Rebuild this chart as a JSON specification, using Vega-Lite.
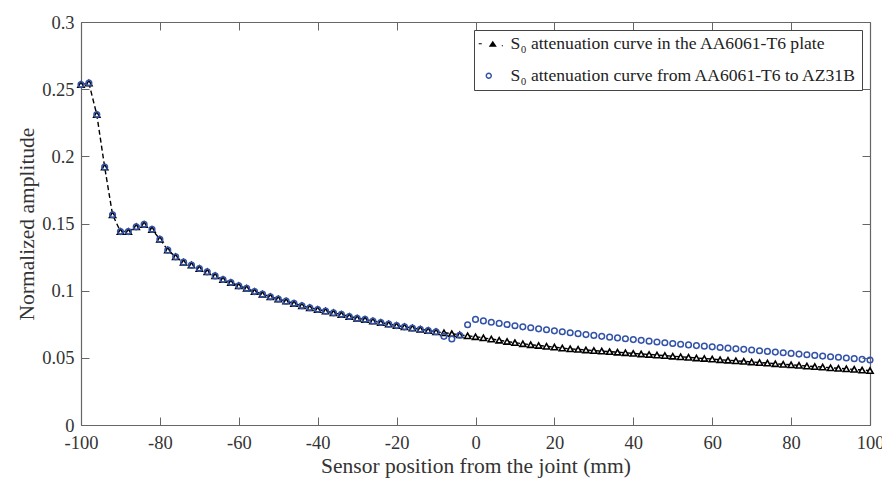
{
  "$schema": "https://vega.github.io/schema/vega-lite/v6.json",
  "width": 789,
  "height": 403,
  "autosize": {"type": "none"},
  "padding": {"left": 81, "top": 22, "right": 12, "bottom": 61},
  "background": "white",
  "config": {
    "view": {"stroke": null},
    "font": "Liberation Serif",
    "axis": {
      "labelFont": "Liberation Serif",
      "titleFont": "Liberation Serif",
      "labelFontSize": 18.5,
      "titleFontSize": 21.5,
      "titleFontWeight": "normal",
      "labelColor": "#333333",
      "titleColor": "#333333",
      "domainColor": "#666666",
      "tickColor": "#666666",
      "domainWidth": 1.2,
      "tickWidth": 1,
      "labelFlush": false,
      "grid": false
    },
    "legend": {
      "orient": "top-right",
      "offset": 8,
      "padding": 5,
      "strokeColor": "#444444",
      "fillColor": "white",
      "symbolSize": 196,
      "symbolStrokeWidth": 0,
      "labelFont": "Liberation Serif",
      "labelFontSize": 17.6,
      "labelColor": "#222222",
      "rowPadding": 13,
      "labelOffset": 14,
      "labelLimit": 500
    }
  },
  "data": {
    "values": [
      {"x": -100, "y": 0.2534, "s": "a"}, {"x": -98, "y": 0.2546, "s": "a"}, {"x": -96, "y": 0.2311, "s": "a"}, {"x": -94, "y": 0.1920, "s": "a"}, {"x": -92, "y": 0.1565, "s": "a"},
      {"x": -90, "y": 0.1440, "s": "a"}, {"x": -88, "y": 0.1440, "s": "a"}, {"x": -86, "y": 0.1475, "s": "a"}, {"x": -84, "y": 0.1493, "s": "a"}, {"x": -82, "y": 0.1456, "s": "a"},
      {"x": -80, "y": 0.1383, "s": "a"}, {"x": -78, "y": 0.1302, "s": "a"}, {"x": -76, "y": 0.1252, "s": "a"}, {"x": -74, "y": 0.1212, "s": "a"}, {"x": -72, "y": 0.1190, "s": "a"},
      {"x": -70, "y": 0.1165, "s": "a"}, {"x": -68, "y": 0.1140, "s": "a"}, {"x": -66, "y": 0.1110, "s": "a"}, {"x": -64, "y": 0.1083, "s": "a"}, {"x": -62, "y": 0.1061, "s": "a"},
      {"x": -60, "y": 0.1036, "s": "a"}, {"x": -58, "y": 0.1017, "s": "a"}, {"x": -56, "y": 0.0993, "s": "a"}, {"x": -54, "y": 0.0974, "s": "a"}, {"x": -52, "y": 0.0955, "s": "a"},
      {"x": -50, "y": 0.0938, "s": "a"}, {"x": -48, "y": 0.0922, "s": "a"}, {"x": -46, "y": 0.0905, "s": "a"}, {"x": -44, "y": 0.0888, "s": "a"}, {"x": -42, "y": 0.0873, "s": "a"},
      {"x": -40, "y": 0.0860, "s": "a"}, {"x": -38, "y": 0.0848, "s": "a"}, {"x": -36, "y": 0.0835, "s": "a"}, {"x": -34, "y": 0.0823, "s": "a"}, {"x": -32, "y": 0.0808, "s": "a"},
      {"x": -30, "y": 0.0795, "s": "a"}, {"x": -28, "y": 0.0786, "s": "a"}, {"x": -26, "y": 0.0774, "s": "a"}, {"x": -24, "y": 0.0763, "s": "a"}, {"x": -22, "y": 0.0751, "s": "a"},
      {"x": -20, "y": 0.0740, "s": "a"}, {"x": -18, "y": 0.0731, "s": "a"}, {"x": -16, "y": 0.0722, "s": "a"}, {"x": -14, "y": 0.0713, "s": "a"}, {"x": -12, "y": 0.0703, "s": "a"},
      {"x": -10, "y": 0.0694, "s": "a"}, {"x": -8, "y": 0.0687, "s": "a"}, {"x": -6, "y": 0.0680, "s": "a"}, {"x": -4, "y": 0.0671, "s": "a"}, {"x": -2, "y": 0.0664, "s": "a"},
      {"x": 0, "y": 0.0657, "s": "a"}, {"x": 2, "y": 0.0649, "s": "a"}, {"x": 4, "y": 0.0640, "s": "a"}, {"x": 6, "y": 0.0631, "s": "a"}, {"x": 8, "y": 0.0622, "s": "a"},
      {"x": 10, "y": 0.0613, "s": "a"}, {"x": 12, "y": 0.0605, "s": "a"}, {"x": 14, "y": 0.0598, "s": "a"}, {"x": 16, "y": 0.0592, "s": "a"}, {"x": 18, "y": 0.0586, "s": "a"},
      {"x": 20, "y": 0.0580, "s": "a"}, {"x": 22, "y": 0.0573, "s": "a"}, {"x": 24, "y": 0.0567, "s": "a"}, {"x": 26, "y": 0.0563, "s": "a"}, {"x": 28, "y": 0.0559, "s": "a"},
      {"x": 30, "y": 0.0554, "s": "a"}, {"x": 32, "y": 0.0550, "s": "a"}, {"x": 34, "y": 0.0546, "s": "a"}, {"x": 36, "y": 0.0542, "s": "a"}, {"x": 38, "y": 0.0538, "s": "a"},
      {"x": 40, "y": 0.0533, "s": "a"}, {"x": 42, "y": 0.0529, "s": "a"}, {"x": 44, "y": 0.0525, "s": "a"}, {"x": 46, "y": 0.0521, "s": "a"}, {"x": 48, "y": 0.0517, "s": "a"},
      {"x": 50, "y": 0.0512, "s": "a"}, {"x": 52, "y": 0.0508, "s": "a"}, {"x": 54, "y": 0.0504, "s": "a"}, {"x": 56, "y": 0.0499, "s": "a"}, {"x": 58, "y": 0.0495, "s": "a"},
      {"x": 60, "y": 0.0491, "s": "a"}, {"x": 62, "y": 0.0486, "s": "a"}, {"x": 64, "y": 0.0482, "s": "a"}, {"x": 66, "y": 0.0478, "s": "a"}, {"x": 68, "y": 0.0474, "s": "a"},
      {"x": 70, "y": 0.0469, "s": "a"}, {"x": 72, "y": 0.0465, "s": "a"}, {"x": 74, "y": 0.0461, "s": "a"}, {"x": 76, "y": 0.0456, "s": "a"}, {"x": 78, "y": 0.0452, "s": "a"},
      {"x": 80, "y": 0.0448, "s": "a"}, {"x": 82, "y": 0.0444, "s": "a"}, {"x": 84, "y": 0.0439, "s": "a"}, {"x": 86, "y": 0.0435, "s": "a"}, {"x": 88, "y": 0.0431, "s": "a"},
      {"x": 90, "y": 0.0426, "s": "a"}, {"x": 92, "y": 0.0422, "s": "a"}, {"x": 94, "y": 0.0418, "s": "a"}, {"x": 96, "y": 0.0414, "s": "a"}, {"x": 98, "y": 0.0409, "s": "a"},
      {"x": 100, "y": 0.0405, "s": "a"},
      {"x": -100, "y": 0.2534, "s": "b"}, {"x": -98, "y": 0.2546, "s": "b"}, {"x": -96, "y": 0.2311, "s": "b"}, {"x": -94, "y": 0.1920, "s": "b"}, {"x": -92, "y": 0.1565, "s": "b"},
      {"x": -90, "y": 0.1440, "s": "b"}, {"x": -88, "y": 0.1440, "s": "b"}, {"x": -86, "y": 0.1475, "s": "b"}, {"x": -84, "y": 0.1493, "s": "b"}, {"x": -82, "y": 0.1456, "s": "b"},
      {"x": -80, "y": 0.1383, "s": "b"}, {"x": -78, "y": 0.1302, "s": "b"}, {"x": -76, "y": 0.1252, "s": "b"}, {"x": -74, "y": 0.1212, "s": "b"}, {"x": -72, "y": 0.1190, "s": "b"},
      {"x": -70, "y": 0.1165, "s": "b"}, {"x": -68, "y": 0.1140, "s": "b"}, {"x": -66, "y": 0.1110, "s": "b"}, {"x": -64, "y": 0.1083, "s": "b"}, {"x": -62, "y": 0.1061, "s": "b"},
      {"x": -60, "y": 0.1036, "s": "b"}, {"x": -58, "y": 0.1017, "s": "b"}, {"x": -56, "y": 0.0993, "s": "b"}, {"x": -54, "y": 0.0974, "s": "b"}, {"x": -52, "y": 0.0955, "s": "b"},
      {"x": -50, "y": 0.0938, "s": "b"}, {"x": -48, "y": 0.0922, "s": "b"}, {"x": -46, "y": 0.0905, "s": "b"}, {"x": -44, "y": 0.0888, "s": "b"}, {"x": -42, "y": 0.0873, "s": "b"},
      {"x": -40, "y": 0.0860, "s": "b"}, {"x": -38, "y": 0.0848, "s": "b"}, {"x": -36, "y": 0.0835, "s": "b"}, {"x": -34, "y": 0.0823, "s": "b"}, {"x": -32, "y": 0.0808, "s": "b"},
      {"x": -30, "y": 0.0795, "s": "b"}, {"x": -28, "y": 0.0786, "s": "b"}, {"x": -26, "y": 0.0774, "s": "b"}, {"x": -24, "y": 0.0763, "s": "b"}, {"x": -22, "y": 0.0751, "s": "b"},
      {"x": -20, "y": 0.0740, "s": "b"}, {"x": -18, "y": 0.0731, "s": "b"}, {"x": -16, "y": 0.0722, "s": "b"}, {"x": -14, "y": 0.0713, "s": "b"}, {"x": -12, "y": 0.0703, "s": "b"},
      {"x": -10, "y": 0.0694, "s": "b"}, {"x": -8, "y": 0.0660, "s": "b"}, {"x": -6, "y": 0.0640, "s": "b"}, {"x": -4, "y": 0.0668, "s": "b"}, {"x": -2, "y": 0.0746, "s": "b"},
      {"x": 0, "y": 0.0786, "s": "b"}, {"x": 2, "y": 0.0775, "s": "b"}, {"x": 4, "y": 0.0765, "s": "b"}, {"x": 6, "y": 0.0756, "s": "b"}, {"x": 8, "y": 0.0748, "s": "b"},
      {"x": 10, "y": 0.0739, "s": "b"}, {"x": 12, "y": 0.0731, "s": "b"}, {"x": 14, "y": 0.0724, "s": "b"}, {"x": 16, "y": 0.0716, "s": "b"}, {"x": 18, "y": 0.0709, "s": "b"},
      {"x": 20, "y": 0.0701, "s": "b"}, {"x": 22, "y": 0.0694, "s": "b"}, {"x": 24, "y": 0.0687, "s": "b"}, {"x": 26, "y": 0.0680, "s": "b"}, {"x": 28, "y": 0.0673, "s": "b"},
      {"x": 30, "y": 0.0667, "s": "b"}, {"x": 32, "y": 0.0660, "s": "b"}, {"x": 34, "y": 0.0654, "s": "b"}, {"x": 36, "y": 0.0648, "s": "b"}, {"x": 38, "y": 0.0642, "s": "b"},
      {"x": 40, "y": 0.0636, "s": "b"}, {"x": 42, "y": 0.0630, "s": "b"}, {"x": 44, "y": 0.0624, "s": "b"}, {"x": 46, "y": 0.0618, "s": "b"}, {"x": 48, "y": 0.0612, "s": "b"},
      {"x": 50, "y": 0.0607, "s": "b"}, {"x": 52, "y": 0.0601, "s": "b"}, {"x": 54, "y": 0.0596, "s": "b"}, {"x": 56, "y": 0.0591, "s": "b"}, {"x": 58, "y": 0.0587, "s": "b"},
      {"x": 60, "y": 0.0582, "s": "b"}, {"x": 62, "y": 0.0577, "s": "b"}, {"x": 64, "y": 0.0572, "s": "b"}, {"x": 66, "y": 0.0567, "s": "b"}, {"x": 68, "y": 0.0563, "s": "b"},
      {"x": 70, "y": 0.0558, "s": "b"}, {"x": 72, "y": 0.0553, "s": "b"}, {"x": 74, "y": 0.0548, "s": "b"}, {"x": 76, "y": 0.0543, "s": "b"}, {"x": 78, "y": 0.0538, "s": "b"},
      {"x": 80, "y": 0.0533, "s": "b"}, {"x": 82, "y": 0.0528, "s": "b"}, {"x": 84, "y": 0.0523, "s": "b"}, {"x": 86, "y": 0.0518, "s": "b"}, {"x": 88, "y": 0.0513, "s": "b"},
      {"x": 90, "y": 0.0508, "s": "b"}, {"x": 92, "y": 0.0504, "s": "b"}, {"x": 94, "y": 0.0499, "s": "b"}, {"x": 96, "y": 0.0494, "s": "b"}, {"x": 98, "y": 0.0489, "s": "b"},
      {"x": 100, "y": 0.0484, "s": "b"}
    ]
  },
  "layer": [
    {
      "transform": [{"filter": "datum.s == 'a'"}],
      "mark": {"type": "line", "stroke": "black", "strokeDash": [5, 3], "strokeWidth": 1.4},
      "encoding": {
        "x": {"field": "x", "type": "quantitative",
              "scale": {"domain": [-100, 100], "nice": false, "zero": false},
              "axis": {"orient": "bottom", "values": [-100, -80, -60, -40, -20, 0, 20, 40, 60, 80, 100],
                       "labelExpr": "datum.value + ''", "ticks": false, "labelPadding": 8, "labelFlush": false,
                       "title": "Sensor position from the joint (mm)", "titlePadding": 4}},
        "y": {"field": "y", "type": "quantitative",
              "scale": {"domain": [0, 0.3], "nice": false, "zero": false},
              "axis": {"orient": "left", "values": [0, 0.05, 0.1, 0.15, 0.2, 0.25, 0.3], "format": "~g",
                       "ticks": false, "labelPadding": 7, "labelFlush": false,
                       "title": "Normalized amplitude", "titlePadding": 3}}
      }
    },
    {
      "transform": [{"filter": "datum.s == 'a'"}],
      "mark": {"type": "point", "shape": "triangle-up", "filled": true, "fill": "white", "stroke": "black", "strokeWidth": 1.6, "size": 38, "opacity": 1},
      "encoding": {
        "x": {"field": "x", "type": "quantitative",
              "axis": {"orient": "bottom", "values": [-100, -80, -60, -40, -20, 0, 20, 40, 60, 80, 100],
                       "labels": false, "domain": false, "title": null, "tickSize": -8}},
        "y": {"field": "y", "type": "quantitative",
              "axis": {"orient": "left", "values": [0, 0.05, 0.1, 0.15, 0.2, 0.25, 0.3],
                       "labels": false, "domain": false, "title": null, "tickSize": -8}}
      }
    },
    {
      "transform": [{"filter": "datum.s == 'b'"}],
      "mark": {"type": "point", "shape": "circle", "filled": false, "stroke": "#3353a8", "strokeWidth": 1.5, "size": 32, "opacity": 1},
      "encoding": {
        "x": {"field": "x", "type": "quantitative",
              "axis": {"orient": "top", "values": [-100, -80, -60, -40, -20, 0, 20, 40, 60, 80, 100],
                       "labels": false, "domain": true, "title": null, "tickSize": -8}},
        "y": {"field": "y", "type": "quantitative",
              "axis": {"orient": "right", "values": [0, 0.05, 0.1, 0.15, 0.2, 0.25, 0.3],
                       "labels": false, "domain": true, "title": null, "tickSize": -8}}
      }
    },
    {
      "transform": [{"filter": "false"}],
      "mark": {"type": "point", "filled": true, "opacity": 1},
      "encoding": {
        "x": {"field": "x", "type": "quantitative", "axis": null},
        "y": {"field": "y", "type": "quantitative", "axis": null},
        "color": {"field": "s", "type": "nominal",
                  "scale": {"domain": ["a", "b"], "range": ["black", "#3353a8"]},
                  "legend": {"title": null, "labelExpr": "datum.value == 'a' ? 'S₀ attenuation curve in the AA6061-T6 plate' : 'S₀ attenuation curve from AA6061-T6 to AZ31B'"}},
        "shape": {"field": "s", "type": "nominal",
                  "scale": {"domain": ["a", "b"], "range": [
                    "M-1.3,-0.08 L-0.86,-0.08 L-0.86,0.08 L-1.3,0.08 Z M0.14,0.43 L0.71,-0.43 L1.29,0.43 Z M2.0,0.2 L2.16,0.2 L2.16,0.36 L2.0,0.36 Z",
                    "M0.6,0 A0.46,0.46 0 1,1 -0.32,0 A0.46,0.46 0 1,1 0.6,0 Z M0.39,0 A0.25,0.25 0 1,0 -0.11,0 A0.25,0.25 0 1,0 0.39,0 Z"
                  ]},
                  "legend": {"title": null, "labelExpr": "datum.value == 'a' ? 'S₀ attenuation curve in the AA6061-T6 plate' : 'S₀ attenuation curve from AA6061-T6 to AZ31B'"}}
      }
    }
  ],
  "resolve": {"axis": {"x": "independent", "y": "independent"}}
}
